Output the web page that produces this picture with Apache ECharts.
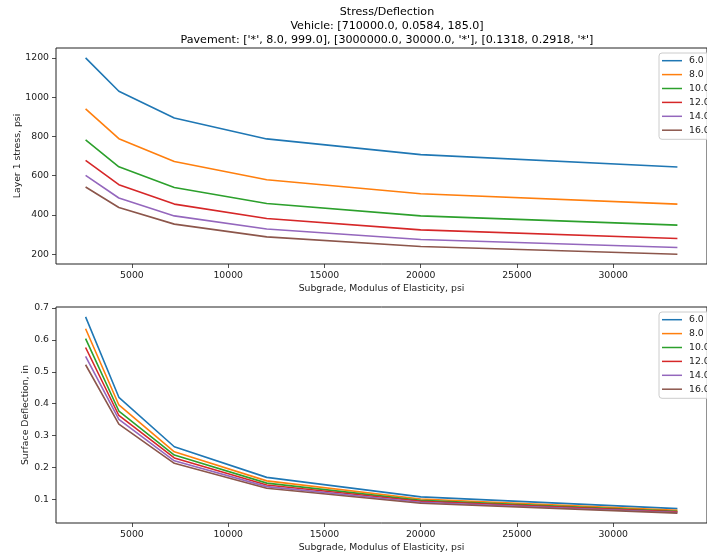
<!DOCTYPE html>
<html>
<head>
<meta charset="utf-8">
<script src="https://cdn.jsdelivr.net/npm/echarts@6/dist/echarts.min.js"></script>
<style>
html,body{margin:0;padding:0;background:#fff;}
#chart{width:707px;height:558px;}
</style>
</head>
<body>
<div id="chart"></div>
<script>
// ---- data ----
const subgradeModulus = [2592, 4320, 7200, 12000, 20000, 33333];
const seriesNames = ['6.0', '8.0', '10.0', '12.0', '14.0', '16.0'];

const stress_6 = [1200, 1030, 894, 787, 707, 644];
const stress_8 = [940, 788, 672, 579, 508, 455];
const stress_10 = [782, 645, 540, 458, 395, 348];
const stress_12 = [678, 554, 455, 382, 324, 280];
const stress_14 = [601, 486, 395, 328, 275, 234];
const stress_16 = [542, 438, 353, 288, 239, 200];

const defl_6 = [0.672, 0.420, 0.265, 0.169, 0.108, 0.071];
const defl_8 = [0.635, 0.396, 0.249, 0.158, 0.101, 0.066];
const defl_10 = [0.604, 0.377, 0.239, 0.151, 0.097, 0.063];
const defl_12 = [0.576, 0.363, 0.230, 0.145, 0.094, 0.061];
const defl_14 = [0.548, 0.351, 0.221, 0.140, 0.091, 0.059];
const defl_16 = [0.522, 0.336, 0.213, 0.135, 0.088, 0.057];

const xTicks = [5000, 10000, 15000, 20000, 25000, 30000];
const stressTicks = [200, 400, 600, 800, 1000, 1200];
const deflTicks = [0.1, 0.2, 0.3, 0.4, 0.5, 0.6, 0.7];

const titleLines = [
  'Stress/Deflection',
  'Vehicle: [710000.0, 0.0584, 185.0]',
  "Pavement: ['*', 8.0, 999.0], [3000000.0, 30000.0, '*'], [0.1318, 0.2918, '*']"
];
const xName = 'Subgrade, Modulus of Elasticity, psi';
const stressName = 'Layer 1 stress, psi';
const deflName = 'Surface Deflection, in';

// ---- build ----
const colors = ['#1f77b4', '#ff7f0e', '#2ca02c', '#d62728', '#9467bd', '#8c564b'];
const stressSets = [stress_6, stress_8, stress_10, stress_12, stress_14, stress_16];
const deflSets = [defl_6, defl_8, defl_10, defl_12, defl_14, defl_16];
const FONT = 'DejaVu Sans';
const FS = 9.3;
const txt = '#222';

function pairs(ys) { return subgradeModulus.map((x, i) => [x, ys[i]]); }

function xAxis(gridIndex) {
  return {
    type: 'value', gridIndex, min: 1055, max: 34870,
    name: xName, nameLocation: 'middle', nameGap: 20.5, nameMoveOverlap: false,
    nameTextStyle: { fontFamily: FONT, fontSize: FS, color: txt },
    axisLine: { show: false },
    axisTick: { show: true, length: 4, lineStyle: { color: '#222', width: 0.8 }, customValues: xTicks },
    axisLabel: { fontFamily: FONT, fontSize: FS, color: txt, margin: 7.5, customValues: xTicks, formatter: v => String(v) },
    splitLine: { show: false }
  };
}
function yAxis(gridIndex, min, max, ticks, name, gap, fmt) {
  return {
    type: 'value', gridIndex, min, max,
    name, nameLocation: 'middle', nameGap: gap, nameRotate: 90, nameMoveOverlap: false,
    nameTextStyle: { fontFamily: FONT, fontSize: FS, color: txt },
    axisLine: { show: false },
    axisTick: { show: true, length: 4, lineStyle: { color: '#222', width: 0.8 }, customValues: ticks },
    axisLabel: { fontFamily: FONT, fontSize: FS, color: txt, margin: 7, customValues: ticks, formatter: fmt },
    splitLine: { show: false }
  };
}

const series = [];
seriesNames.forEach((n, i) => {
  series.push({ type: 'line', name: n, xAxisIndex: 0, yAxisIndex: 0, data: pairs(stressSets[i]),
    symbol: 'none', lineStyle: { width: 1.6, color: colors[i] }, itemStyle: { color: colors[i] }, animation: false });
});
seriesNames.forEach((n, i) => {
  series.push({ type: 'line', name: n, xAxisIndex: 1, yAxisIndex: 1, data: pairs(deflSets[i]),
    symbol: 'none', lineStyle: { width: 1.6, color: colors[i] }, itemStyle: { color: colors[i] }, animation: false });
});

function legend(top) {
  return {
    data: seriesNames.map(n => ({ name: n, icon: 'path://M0,0H20V1.5H0Z' })),
    orient: 'vertical', left: 659, top,
    itemWidth: 20, itemHeight: 9, itemGap: 4.9,
    padding: [3.2, 4, 4.6, 3],
    backgroundColor: 'rgba(255,255,255,0.8)', borderColor: '#ccc', borderWidth: 1, borderRadius: 3,
    textStyle: { fontFamily: FONT, fontSize: FS, color: txt, padding: [0, 0, 0, 2] },
    selectedMode: false
  };
}

const option = {
  backgroundColor: '#fff',
  animation: false,
  title: {
    text: titleLines.join('\n'), left: 387, top: 5, padding: 0, textAlign: 'center',
    textStyle: { fontFamily: FONT, fontSize: 11.1, fontWeight: 'normal', color: '#000', lineHeight: 14 }
  },
  grid: [
    { left: 56, top: 48, width: 662, height: 216, show: true, borderColor: '#222', borderWidth: 1, backgroundColor: 'transparent' },
    { left: 56, top: 307, width: 662, height: 216, show: true, borderColor: '#222', borderWidth: 1, backgroundColor: 'transparent' }
  ],
  xAxis: [xAxis(0), xAxis(1)],
  yAxis: [
    yAxis(0, 150, 1250, stressTicks, stressName, 34, v => String(Math.round(v))),
    yAxis(1, 0.026, 0.703, deflTicks, deflName, 26, v => v.toFixed(1))
  ],
  legend: [legend(53), legend(312)],
  series
};

const chart = echarts.init(document.getElementById('chart'), null, { renderer: 'canvas' });
chart.setOption(option);
</script>
</body>
</html>
